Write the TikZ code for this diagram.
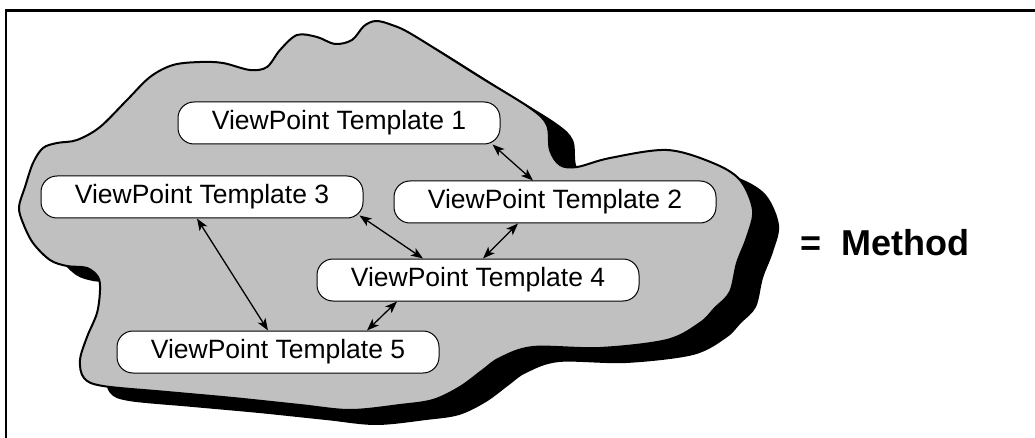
\documentclass[tikz,border=0pt]{standalone}
\usepackage{fontspec}
\setmainfont{Liberation Sans}
\usepackage{xcolor}
\usepackage{tikz}
\usetikzlibrary{arrows.meta, calc}
\definecolor{blobgray}{RGB}{192,192,192}
\tikzstyle{template} = [draw, fill=white, line width=1pt, rounded corners=16pt, minimum width=322pt, minimum height=42pt, inner sep=0pt, font=\fontsize{26.5}{30}\selectfont]
\tikzstyle{arrow} = [line width=1.3pt, <->, >={Stealth[length=12pt,width=9pt,inset=3pt]}]
\newcommand{\methodblob}[1]{%
  \path[#1] plot[smooth cycle, tension=0.55] coordinates {
    (19,207) (25,187) (33,163) (43,148) (57,143) (77,140) (100,127) (127,100)
    (150,77) (173,65) (200,62) (223,63) (250,70) (267,67) (280,50) (297,35)
    (317,37) (335,44) (352,40) (364,26) (376,21) (392,25) (413,35) (480,77)
    (530,108) (547,125) (550,150) (560,165) (577,167) (610,158) (667,150)
    (713,163) (740,180) (753,210) (747,237) (737,263) (730,292) (715,308)
    (700,323) (667,340) (600,348) (533,347) (500,358) (483,370) (460,387)
    (433,400) (400,405) (350,410) (300,405) (233,398) (167,392) (103,386)
    (84,378) (80,360) (87,337) (97,313) (100,290) (98,277) (87,268) (67,266)
    (50,260) (33,243) (23,223)};}

\begin{document}
\begin{tikzpicture}[x=1pt, y=-1pt]
\useasboundingbox (0,0) rectangle (1035,438);
\draw[line width=2.5pt] (6,438) -- (6,10.5) -- (1035,10.5);

\methodblob{fill=black, shift={(26,15)}}
\methodblob{fill=blobgray, draw=black, line width=2pt}

\node[template] (vp1) at (339,123) {ViewPoint Template 1};
\node[template] (vp2) at (555,202) {ViewPoint Template 2};
\node[template] (vp3) at (202,197) {ViewPoint Template 3};
\node[template] (vp4) at (478,280) {ViewPoint Template 4};
\node[template] (vp5) at (278,352) {ViewPoint Template 5};

\draw[arrow] ([xshift=-8pt]vp1.south east) -- ([xshift=-22pt]vp2.north);
\draw[arrow] ([xshift=-4pt,yshift=3pt]vp3.south east) -- ([xshift=-55pt]vp4.north);
\draw[arrow] ([xshift=5pt]vp4.north) -- ([xshift=-37pt]vp2.south);
\draw[arrow] ([xshift=-5pt]vp3.south) -- ([xshift=-10pt]vp5.north);
\draw[arrow] ([xshift=89pt]vp5.north) -- ([xshift=-81pt]vp4.south);

\node[anchor=base west, inner sep=0pt, font=\fontsize{36}{40}\selectfont\bfseries] (method) at (800,255) {= \ Method};
\end{tikzpicture}
\end{document}
